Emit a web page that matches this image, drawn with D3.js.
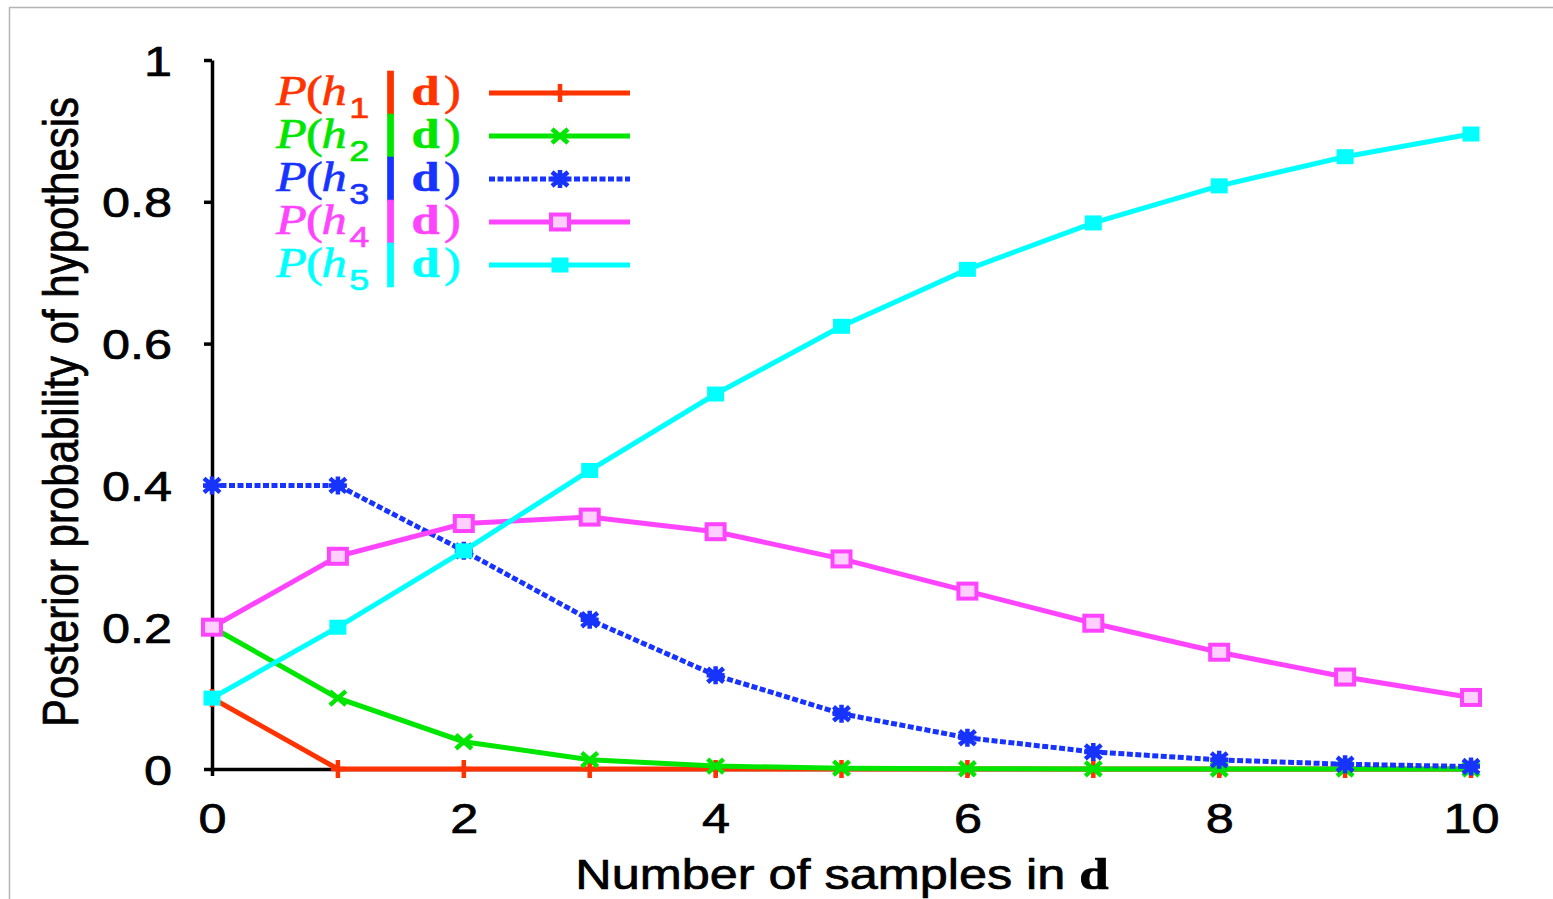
<!DOCTYPE html>
<html>
<head>
<meta charset="utf-8">
<script src="https://cdn.jsdelivr.net/npm/d3@7"></script>
<style>
  body { margin: 0; background: #fff; }
  svg { display: block; }
</style>
</head>
<body>
<svg id="chart" width="1553" height="899"></svg>
<script>
// number of samples (all lime so far)
var samples = [0, 1, 2, 3, 4, 5, 6, 7, 8, 9, 10];

// posterior of each hypothesis
var h1 = [0.1, 0, 0, 0, 0, 0, 0, 0, 0, 0, 0];
var h2 = [0.2, 0.1, 0.0385, 0.0132, 0.0041, 0.0012, 0.0003, 0.0001, 0, 0, 0];
var h3 = [0.4, 0.4, 0.3077, 0.2105, 0.1322, 0.078, 0.044, 0.0241, 0.0129, 0.0067, 0.0035];
var h4 = [0.2, 0.3, 0.3462, 0.3553, 0.3347, 0.2963, 0.2509, 0.2056, 0.1647, 0.1297, 0.1009];
var h5 = [0.1, 0.2, 0.3077, 0.4211, 0.5289, 0.6244, 0.7047, 0.7702, 0.8225, 0.8636, 0.8956];

var seriesNames = ["1", "2", "3", "4", "5"];
var xTicks = [0, 2, 4, 6, 8, 10];
var yTicks = [0, 0.2, 0.4, 0.6, 0.8, 1];

var series = [
  {sub: seriesNames[0], values: h1, color: "#ff3300", marker: "plus", dash: null},
  {sub: seriesNames[1], values: h2, color: "#00e600", marker: "cross", dash: null},
  {sub: seriesNames[2], values: h3, color: "#1733ff", marker: "star", dash: "6,2.5"},
  {sub: seriesNames[3], values: h4, color: "#ff44ff", marker: "box", dash: null},
  {sub: seriesNames[4], values: h5, color: "#00ffff", marker: "fillbox", dash: null}
];

var svg = d3.select("#chart");
var stretch = "scale(1.2,1)";   // the original picture is a bit wider than tall
var sans = "'Liberation Sans', Arial, sans-serif";
var serif = "'Liberation Serif', 'Times New Roman', serif";

// thin grey frame of the original slide
svg.append("rect")
  .attr("x", 9.5).attr("y", 7.5)
  .attr("width", 1700).attr("height", 1000)
  .attr("fill", "none").attr("stroke", "#b4b4b4").attr("stroke-width", 1.5);

var x = d3.scaleLinear().domain([0, 10]).range([212, 1471]);
var y = d3.scaleLinear().domain([0, 1]).range([769, 60]);

// axes
var gx = svg.append("g")
  .attr("transform", "translate(0," + y(0) + ")")
  .call(d3.axisBottom(x).tickValues(xTicks).tickSize(7).tickSizeOuter(0).tickFormat(d3.format("d")));
gx.selectAll("text")
  .attr("y", 0).attr("dy", 0)
  .attr("transform", "translate(0,64) " + stretch);

var gy = svg.append("g")
  .attr("transform", "translate(" + x(0) + ",0)")
  .call(d3.axisLeft(y).tickValues(yTicks).tickSize(8).tickSizeOuter(0).tickFormat(function(d) { return d; }));
gy.selectAll("text")
  .attr("x", 0).attr("dy", "0.36em")
  .attr("text-anchor", "end")
  .attr("transform", "translate(-40,0) " + stretch);

svg.selectAll(".domain, .tick line")
  .attr("stroke", "#000").attr("stroke-width", 3.5);
svg.selectAll(".tick text")
  .attr("fill", "#000")
  .attr("stroke", "#000").attr("stroke-width", 0.7)
  .style("font-family", sans)
  .style("font-size", "42px");

// axis titles
var xt = svg.append("text")
  .attr("transform", "translate(842,889) " + stretch)
  .attr("text-anchor", "middle")
  .attr("stroke", "#000").attr("stroke-width", 0.7)
  .style("font-family", sans)
  .style("font-size", "42px");
xt.append("tspan").text("Number of samples in ");
xt.append("tspan").text("d")
  .style("font-family", serif)
  .style("font-weight", "bold")
  .style("font-size", "44px");

svg.append("text")
  .attr("transform", "translate(78,412) rotate(-90) scale(1,1.2)")
  .attr("text-anchor", "middle")
  .attr("stroke", "#000").attr("stroke-width", 0.6)
  .style("font-family", sans)
  .style("font-size", "42px")
  .text("Posterior probability of hypothesis");

// marker shapes
function drawMarker(g, kind, color) {
  if (kind == "plus") {
    g.append("path").attr("d", "M0,-9V9M-7,0H7")
      .attr("stroke", color).attr("stroke-width", 4.5).attr("fill", "none");
  } else if (kind == "cross") {
    g.append("path").attr("d", "M-8,-7L8,7M-8,7L8,-7")
      .attr("stroke", color).attr("stroke-width", 4.5).attr("fill", "none");
  } else if (kind == "star") {
    g.append("path").attr("d", "M-8,-7L8,7M-8,7L8,-7M0,-9V9M-9,0H9")
      .attr("stroke", color).attr("stroke-width", 4.5).attr("fill", "none");
    g.append("rect").attr("x", -5.5).attr("y", -5.5).attr("width", 11).attr("height", 11).attr("fill", color);
  } else if (kind == "box") {
    g.append("rect").attr("x", -9).attr("y", -7.5).attr("width", 18).attr("height", 15)
      .attr("stroke", color).attr("stroke-width", 4).attr("fill", "#ffd0ff");
  } else {
    g.append("rect").attr("x", -8.5).attr("y", -7.5).attr("width", 17).attr("height", 15)
      .attr("fill", color);
  }
}

var line = d3.line()
  .x(function(d, i) { return x(samples[i]); })
  .y(function(d) { return y(d); });

series.forEach(function(s) {
  var g = svg.append("g");
  g.append("path")
    .attr("d", line(s.values))
    .attr("fill", "none")
    .attr("stroke", s.color)
    .attr("stroke-width", 5)
    .attr("stroke-dasharray", s.dash);
  g.selectAll("g.pt")
    .data(s.values)
    .join("g")
    .attr("class", "pt")
    .attr("transform", function(d, i) { return "translate(" + x(samples[i]) + "," + y(d) + ")"; })
    .each(function() { drawMarker(d3.select(this), s.marker, s.color); });
});

// legend
series.forEach(function(s, i) {
  var cy = 93 + i * 43;
  var lg = svg.append("g").attr("transform", "translate(276," + (cy + 12) + ") " + stretch)
    .attr("fill", s.color).attr("stroke", s.color).attr("stroke-width", 0.6);
  lg.append("text").attr("x", 0).text("P")
    .style("font-family", serif).style("font-style", "italic").style("font-size", "42px");
  lg.append("text").attr("x", 25).text("(")
    .style("font-family", serif).style("font-size", "42px");
  lg.append("text").attr("x", 38).text("h")
    .style("font-family", serif).style("font-style", "italic").style("font-size", "42px");
  lg.append("text").attr("x", 61).attr("y", 13).text(s.sub)
    .style("font-family", sans).style("font-size", "30px");
  lg.append("rect").attr("x", 93).attr("y", -34).attr("width", 5).attr("height", 44);
  lg.append("text").attr("x", 113).text("d")
    .style("font-family", serif).style("font-weight", "bold").style("font-size", "42px");
  lg.append("text").attr("x", 140).text(")")
    .style("font-family", serif).style("font-size", "42px");

  var ll = svg.append("g");
  ll.append("line")
    .attr("x1", 489).attr("x2", 630).attr("y1", cy).attr("y2", cy)
    .attr("stroke", s.color).attr("stroke-width", 5)
    .attr("stroke-dasharray", s.dash);
  drawMarker(ll.append("g").attr("transform", "translate(560," + cy + ")"), s.marker, s.color);
});
</script>
</body>
</html>
